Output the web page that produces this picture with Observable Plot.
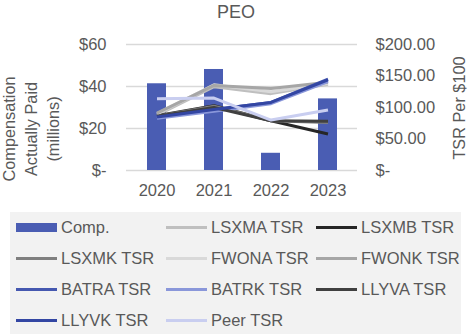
<!DOCTYPE html>
<html>
<head>
<meta charset="utf-8">
<script src="https://cdn.jsdelivr.net/npm/d3@7"></script>
<script src="https://cdn.jsdelivr.net/npm/@observablehq/plot@0.6"></script>
<style>
  html, body { margin: 0; padding: 0; background: #fff; }
  body { width: 468px; height: 334px; position: relative; overflow: hidden;
         font-family: "Liberation Sans", Arial, sans-serif; color: #595959; }
  #chart { position: absolute; left: 0; top: 0; }
  .abs { position: absolute; white-space: nowrap; }
  #legend { position: absolute; left: 10px; top: 212px; width: 451px; height: 122px; background: #F2F2F2; }
</style>
</head>
<body>
<div id="chart"></div>
<div class="abs" style="left:0;width:472px;top:1px;text-align:center;font-size:18px;line-height:22px;">PEO</div>
<div id="ylabel" class="abs" style="left:31px;top:129px;transform:translate(-50%,-50%) rotate(-90deg);text-align:center;font-size:16.3px;line-height:22px;">Compensation<br>Actually Paid<br>(millions)</div>
<div class="abs" style="left:459px;top:108px;transform:translate(-50%,-50%) rotate(-90deg);font-size:16.3px;">TSR Per $100</div>
<div id="legend"></div>
<script>
const years = ["2020", "2021", "2022", "2023"];
const comp = [41.3, 48.1, 8.2, 34.1];
const seriesNames = ["LSXMA TSR", "LSXMB TSR", "LSXMK TSR", "FWONA TSR", "FWONK TSR", "BATRA TSR", "BATRK TSR", "LLYVA TSR", "LLYVK TSR", "Peer TSR"];
const seriesColors = ["#BFBFBF", "#262626", "#7F7F7F", "#D9D9D9", "#A6A6A6", "#4558B0", "#8A97DA", "#404040", "#3346A3", "#C9CEF0"];
const LSXMA = [88, 133, 122, 137];
const LSXMB = [87, 103, 79, 58];
const LSXMK = [86, 102, 79, 76];
const FWONA = [90, 136, 125, 138];
const FWONK = [91, 135, 130, 140];
const BATRA = [85, 97, 108, 145];
const BATRK = [83, 94, 106, 141];
const LLYVA = [86, 100, 79, 78];
const LLYVK = [85, 97, 108, 144];
const PEER = [114, 115, 80, 96];
const seriesValues = [LSXMA, LSXMB, LSXMK, FWONA, FWONK, BATRA, BATRK, LLYVA, LLYVK, PEER];
const leftTicks = [0, 20, 40, 60];
const leftTickLabels = ["$-", "$20", "$40", "$60"];
const rightTicks = [0, 50, 100, 150, 200];
const rightTickLabels = ["$-", "$50.00", "$100.00", "$150.00", "$200.00"];
const compColor = "#4A5DB3";

const ratio = 60 / 200;
const barData = years.map((y, i) => ({year: y, value: comp[i]}));
const lineData = [];
seriesNames.forEach((name, si) => {
  years.forEach((y, i) => lineData.push({series: name, year: y, tsr: seriesValues[si][i]}));
});

const FS = 16.5;
const chart = Plot.plot({
  width: 468,
  height: 205,
  marginLeft: 126,
  marginRight: 111,
  marginTop: 44,
  marginBottom: 35,
  style: {fontFamily: "Liberation Sans, Arial, sans-serif", fontSize: FS + "px", color: "#595959", background: "transparent", overflow: "visible"},
  x: {type: "band", domain: years, paddingInner: 0.67, paddingOuter: 0.335, label: null},
  y: {domain: [0, 60], label: null},
  color: {domain: seriesNames, range: seriesColors},
  marks: [
    Plot.gridY(leftTicks, {stroke: "#D9D9D9", strokeOpacity: 1, strokeWidth: 1.5}),
    Plot.barY(barData, {x: "year", y: "value", fill: compColor}),
    Plot.line(lineData, {x: "year", y: d => d.tsr * ratio, z: "series", stroke: "series", strokeWidth: 3, strokeLinejoin: "round", strokeLinecap: "butt"}),
    Plot.axisY(leftTicks, {anchor: "left", tickSize: 0, tickPadding: 20, tickFormat: d => leftTickLabels[leftTicks.indexOf(d)], fill: "#595959", fontSize: FS, label: null}),
    Plot.axisY(rightTicks.map(d => d * ratio), {anchor: "right", tickSize: 0, tickPadding: 18, tickFormat: d => rightTickLabels[rightTicks.indexOf(Math.round(d / ratio))], fill: "#595959", fontSize: FS, label: null}),
    Plot.axisX({tickSize: 0, tickPadding: 14, fill: "#595959", fontSize: FS, label: null})
  ]
});
document.getElementById("chart").appendChild(chart);

// legend
const legendItems = [{name: "Comp.", color: compColor, bar: true}].concat(seriesNames.map((n, i) => ({name: n, color: seriesColors[i], bar: false})));
const colX = [6, 156, 306];
const rowY = [15, 46, 77, 108];
const legend = document.getElementById("legend");
legendItems.forEach((it, i) => {
  const c = i % 3, r = Math.floor(i / 3);
  const sw = document.createElement("div");
  sw.className = "abs";
  const h = it.bar ? 9 : 3;
  sw.style.cssText = `left:${colX[c]}px;top:${rowY[r] - h / 2}px;width:${it.bar ? 41 : 41}px;height:${h}px;background:${it.color};`;
  legend.appendChild(sw);
  const t = document.createElement("div");
  t.className = "abs";
  t.style.cssText = `left:${colX[c] + 45}px;top:${rowY[r] - 10}px;font-size:16.5px;line-height:20px;color:#595959;`;
  t.textContent = it.name;
  legend.appendChild(t);
});
</script>
</body>
</html>
